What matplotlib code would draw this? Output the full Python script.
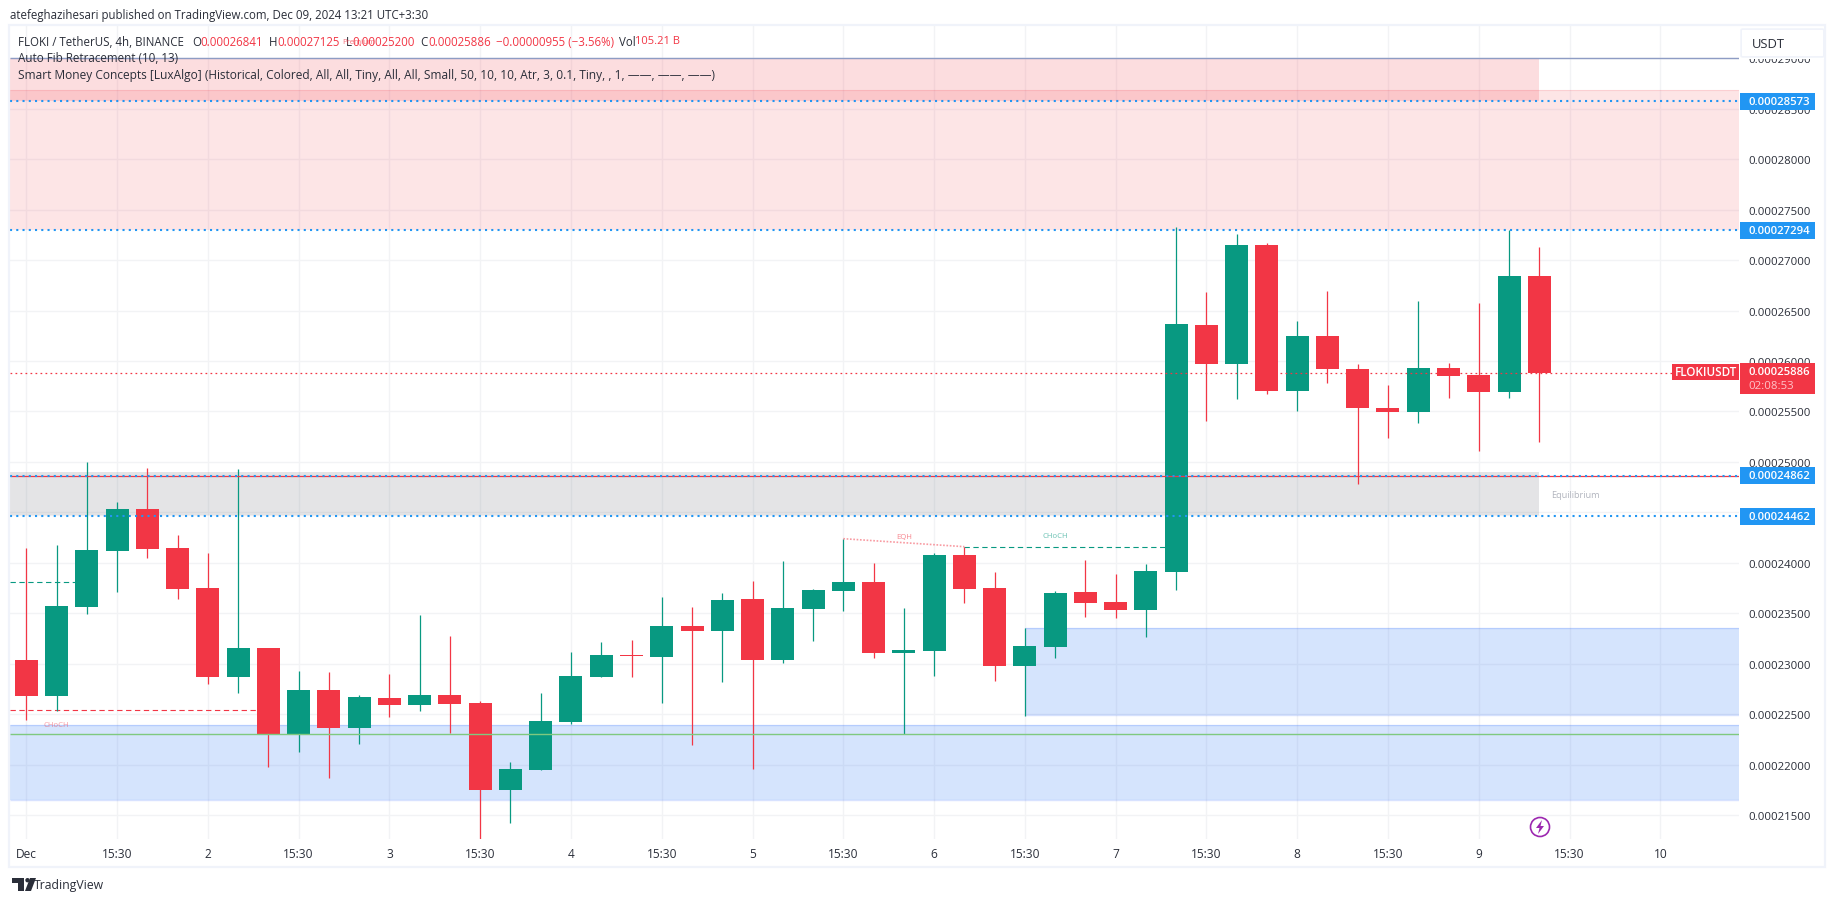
import numpy as np
import matplotlib
matplotlib.use("Agg")
import matplotlib.pyplot as plt
from matplotlib.patches import Rectangle, FancyBboxPatch, Circle, Polygon
from matplotlib.ticker import FuncFormatter, FixedLocator

# prices are in units of 1e-8
opens = [23040, 22683, 23565, 24120, 24536, 24150, 23753, 22871, 23159, 22306,
         22742, 22366, 22663, 22594, 22693, 22613, 21751, 21949, 22425, 22871,
         23089, 23069, 23377, 23327, 23644, 23040, 23545, 23723, 23813, 23109,
         23129, 24080, 23753, 22980, 23168, 23714, 23615, 23535, 23912, 26360,
         25973, 27153, 25706, 26251, 25924, 25537, 25498, 25934, 25864, 25696,
         26841]
highs = [24150, 24179, 25000, 24606, 24943, 24278, 24100, 24933, 23159, 22931,
         22921, 22693, 22901, 23486, 23277, 22633, 22029, 22713, 23119, 23218,
         23238, 23664, 23565, 23704, 23823, 24021, 23743, 24239, 24001, 23555,
         24100, 24160, 23912, 23357, 23723, 24031, 23892, 23991, 27331, 26687,
         27262, 27173, 26399, 26697, 25973, 25765, 26598, 25983, 26578, 27294,
         27125]
lows = [22445, 22534, 23496, 23714, 24051, 23644, 22802, 22713, 21979, 22128,
        21870, 22207, 22475, 22534, 22316, 21256, 21424, 21949, 22405, 22871,
        22871, 22613, 22197, 22822, 21959, 23010, 23228, 23525, 23059, 22306,
        22881, 23605, 22832, 22485, 23059, 23466, 23456, 23268, 23733, 25408,
        25626, 25676, 25507, 25785, 24784, 25240, 25389, 25636, 25111, 25636,
        25200]
closes = [22683, 23575, 24130, 24536, 24140, 23743, 22871, 23159, 22306, 22742,
          22366, 22673, 22594, 22693, 22604, 21751, 21959, 22435, 22881, 23089,
          23079, 23377, 23327, 23634, 23040, 23555, 23733, 23813, 23109, 23139,
          24080, 23743, 22980, 23178, 23704, 23605, 23535, 23922, 26370, 25973,
          27153, 25706, 26251, 25924, 25537, 25498, 25934, 25854, 25696, 26845,
          25886]

date_labels = ["Dec", "15:30", "2", "15:30", "3", "15:30", "4", "15:30", "5", "15:30",
               "6", "15:30", "7", "15:30", "8", "15:30", "9", "15:30", "10"]
price_ticks = [21500, 22000, 22500, 23000, 23500, 24000, 24500, 25000, 25500,
               26000, 26500, 27000, 27500, 28000, 28500, 29000]
fib_levels = [28573, 27294, 24862, 24462]
last_price = 25886

W, H = 1835, 903
LEFT, RIGHT, TOP, BOTTOM = 10, 1739, 27, 840
GREEN = "#089981"
RED = "#f23645"
BLUE = "#2196f3"
GRID = "#f2f3f5"
FRAME = "#f0f3fa"
ZONE_BLUE = "#3179f5"
TXT = "#2a2e39"

plt.rcParams["font.family"] = ["Open Sans", "DejaVu Sans"]

fig = plt.figure(figsize=(W / 100, H / 100), dpi=100)
ax = fig.add_axes([LEFT / W, 1 - BOTTOM / H, (RIGHT - LEFT) / W, (BOTTOM - TOP) / H])
ax.set_xlim(-0.539, 56.6)
ax.set_ylim(21263, 29320)
xmin, xmax = ax.get_xlim()

idx = np.arange(len(opens))
o, h, l, c = map(np.array, (opens, highs, lows, closes))
up = c >= o
colors = np.where(up, GREEN, RED)

# grid
ax.xaxis.set_major_locator(FixedLocator(np.arange(0, 3 * len(date_labels), 3)))
ax.set_xticklabels(date_labels)
ax.yaxis.set_major_locator(FixedLocator(price_ticks))
ax.yaxis.set_major_formatter(FuncFormatter(lambda v, p: f"{v * 1e-8:.8f}"))
ax.yaxis.tick_right()
ax.grid(True, color=GRID, lw=1.0)
ax.set_axisbelow(True)
ax.tick_params(axis="both", length=0, labelcolor=TXT)
ax.tick_params(axis="y", pad=7, labelsize=8.2)
ax.tick_params(axis="x", pad=6, labelsize=8.6)
for s in ax.spines.values():
    s.set_visible(False)

# zones
ax.axhspan(27294, 28689, color=RED, alpha=0.13, lw=0, zorder=1)
ax.hlines(28689, xmin, xmax, color=RED, alpha=0.12, lw=0.8, zorder=1)
ax.fill_between([xmin, 50], 28573, 29003, color=RED, alpha=0.17, lw=0, zorder=1)
ax.fill_between([xmin, 50], 24477, 24898, color="#787b86", alpha=0.2, lw=0, zorder=1)
ax.hlines(24477, xmin, 50, color="#787b86", alpha=0.12, lw=0.9, zorder=1)
ax.axhspan(21645, 22395, color=ZONE_BLUE, alpha=0.2, lw=0, zorder=1)
ax.hlines([21645, 22395], xmin, xmax, color="#2962ff", alpha=0.18, lw=1, zorder=1)
ax.fill_between([33, xmax], 22488, 23354, color=ZONE_BLUE, alpha=0.2, lw=0, zorder=1)
ax.hlines([22488, 23354], 33, xmax, color="#2962ff", alpha=0.18, lw=1, zorder=1)

# candles
ax.vlines(idx, l, h, color=colors, lw=0.9, zorder=3)
ax.bar(idx, np.abs(c - o), bottom=np.minimum(o, c), width=0.76, color=colors, lw=0, zorder=4)

# levels
ax.hlines(29003, xmin, xmax, color="#8e9cc4", lw=1, zorder=5)
ax.hlines(22303, xmin, xmax, color="#7fc97f", lw=1, zorder=5)
ax.hlines(24862, xmin, xmax, color=RED, lw=0.9, zorder=5)
ax.hlines(fib_levels, xmin, xmax, color=BLUE, lw=1.5, linestyles=[(0, (1, 2))], zorder=6)
ax.hlines(last_price, xmin, xmax, color=RED, lw=0.9, linestyles=[(0, (1.4, 2.6))], zorder=6)

# structure lines
dash = [(0, (4.8, 3.2))]
ax.hlines(23810, xmin, 2, color=GREEN, lw=0.8, linestyles=dash, zorder=2)
ax.hlines(22541, xmin, 8, color=RED, lw=0.8, linestyles=dash, zorder=2)
ax.hlines(24160, 31, 38, color=GREEN, lw=0.8, linestyles=dash, zorder=2)
ax.plot([27, 31], [24239, 24160], color=RED, alpha=0.5, lw=1.2, ls=(0, (1, 1)), zorder=5)

small = dict(ha="center", va="center", fontsize=5.6, zorder=7)
ax.text(1, 22400, "CHoCH", color=RED, alpha=0.5, **small)
ax.text(34, 24270, "CHoCH", color=GREEN, alpha=0.6, **small)
ax.text(29, 24260, "EQH", color=RED, alpha=0.6, **small)
ax.text(51.2, 24675, "Equilibrium", color="#b2b5be", ha="center", va="center", fontsize=6.6, zorder=7)


def fx(x):
    return x / W


def fy(y):
    return 1 - y / H


def txt(x, y, s, color=TXT, size=8.6, **kw):
    kw.setdefault("va", "center")
    kw.setdefault("ha", "left")
    return fig.text(fx(x), fy(y), s, color=color, fontsize=size, zorder=10, **kw)


def box(x0, y0, x1, y1, color):
    fig.add_artist(Rectangle((fx(x0), fy(y1)), (x1 - x0) / W, (y1 - y0) / H,
                             transform=fig.transFigure, color=color, lw=0, zorder=5))


# frame
fig.add_artist(Rectangle((fx(9), fy(868)), 1816 / W, 842 / H, transform=fig.transFigure,
                         fill=False, edgecolor=FRAME, lw=1.6, zorder=4))

# header and legend
txt(10, 15, "atefeghazihesari published on TradingView.com, Dec 09, 2024 13:21 UTC+3:30", size=8.3)
txt(18, 42, "FLOKI / TetherUS, 4h, BINANCE", size=8.3)
txt(192, 42, "O", size=8.3)
txt(200, 42, "0.00026841", RED, 8.3)
txt(269, 42, "H", size=8.3)
txt(277, 42, "0.00027125", RED, 8.3)
txt(346, 42, "L", size=8.3)
txt(352, 42, "0.00025200", RED, 8.3)
txt(420, 42, "C", size=8.3)
txt(428, 42, "0.00025886", RED, 8.3)
txt(496, 42, "\u22120.00000955 (\u22123.56%)", RED, 8.3)
txt(619, 42, "Vol", size=8.3)
txt(635, 42, "105.21 B", RED, 8.0)
txt(359, 42, "Premium", RED, 5.6, ha="center", alpha=0.7)
txt(18, 59, "Auto Fib Retracement (10, 13)", size=8.35)
txt(18, 76, "Smart Money Concepts [LuxAlgo] (Historical, Colored, All, All, Tiny, All, All, Small, "
    "50, 10, 10, Atr, 3, 0.1, Tiny, , 1, \u2014\u2014, \u2014\u2014, \u2014\u2014)", size=8.55)

# price axis labels
box(1740, 28, 1824, 60, "white")
for lev in fib_levels:
    y = 462.9 - 0.1009 * (lev - 25000)
    box(1740, y - 8.5, 1815, y + 8.5, BLUE)
    txt(1748, y, f"{lev * 1e-8:.8f}", "white", 8.2, fontweight="semibold")
box(1740, 364, 1815, 395, RED)
txt(1748, 372.5, f"{last_price * 1e-8:.8f}", "white", 8.2, fontweight="semibold")
txt(1748, 386.5, "02:08:53", "#ffc4c9", 8.2)
box(1672, 364.5, 1739, 380.5, RED)
txt(1705.5, 372.5, "FLOKIUSDT", "white", 8.4, ha="center", fontweight="semibold")

fig.add_artist(FancyBboxPatch((fx(1743), fy(57)), 79 / W, 26 / H, boxstyle="round,pad=0.001",
                              transform=fig.transFigure, facecolor="white", edgecolor=FRAME,
                              lw=1.2, zorder=6))
txt(1752, 44, "USDT", size=9.4)

# bolt icon
fig.add_artist(Circle((1540, H - 828), 9.5, transform=None, fill=False, edgecolor="#9c27b0", lw=1.2, zorder=6))
bolt = [(1542, 821), (1536, 829), (1539.5, 829), (1538, 835), (1544, 827), (1540.5, 827)]
fig.add_artist(Polygon([(fx(a), fy(b)) for a, b in bolt], transform=fig.transFigure, color="#9c27b0", lw=0, zorder=6))

# logo
logo_bar = [(12, 879), (24, 879), (24, 892), (18, 892), (18, 884), (12, 884)]
logo_slant = [(30, 879), (36, 879), (31, 892), (25, 892)]
fig.add_artist(Polygon([(fx(a), fy(b)) for a, b in logo_bar], transform=fig.transFigure, color=TXT, lw=0))
fig.add_artist(Polygon([(fx(a), fy(b)) for a, b in logo_slant], transform=fig.transFigure, color=TXT, lw=0))
fig.add_artist(Circle((27.5, H - 881.2), 2.2, transform=None, color=TXT, lw=0))
txt(34, 885.5, "TradingView", size=8.8)

fig.savefig("out.png", dpi=100)
